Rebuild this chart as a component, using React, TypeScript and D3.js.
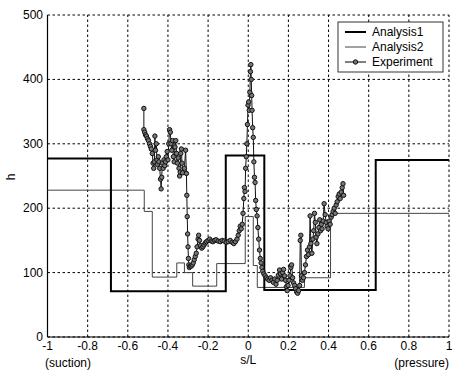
import React from "react";
import * as d3 from "d3";

const width = 466;
const height = 370;

// step breakpoints (x) and the level that holds until the next breakpoint
const a1X = [-1, -0.684, -0.112, 0.08, 0.635, 1];
const a1H = [277, 71, 282, 73, 275, 275];

const a2X = [-1, -0.518, -0.478, -0.356, -0.318, -0.277, -0.157, -0.015, 0.025, 0.045, 0.28, 0.41, 1];
const a2H = [228, 195, 93, 115, 100, 79, 114, 187, 111, 77, 92, 192, 192];

const expX = [
  -0.52, -0.52, -0.516, -0.512, -0.507, -0.502, -0.497, -0.492, -0.487, -0.483, -0.478, -0.474, -0.471,
  -0.468, -0.465, -0.462, -0.458, -0.455, -0.452, -0.448, -0.445, -0.441, -0.437, -0.434, -0.431, -0.428,
  -0.424, -0.42, -0.416, -0.412, -0.408, -0.404, -0.4, -0.396, -0.392, -0.388, -0.385, -0.381, -0.377,
  -0.373, -0.369, -0.365, -0.361, -0.357, -0.353, -0.349, -0.345, -0.342, -0.339, -0.336, -0.333, -0.33,
  -0.327, -0.318, -0.312, -0.308, -0.306, -0.304, -0.302, -0.3, -0.298, -0.296, -0.293, -0.289, -0.284,
  -0.279, -0.274, -0.269, -0.264, -0.259, -0.255, -0.25, -0.247, -0.243, -0.238, -0.232, -0.226, -0.22,
  -0.214, -0.208, -0.2, -0.192, -0.184, -0.176, -0.168, -0.16, -0.15, -0.14, -0.13, -0.12, -0.11, -0.1,
  -0.09, -0.08, -0.072, -0.064, -0.056, -0.05, -0.045, -0.04, -0.035, -0.03, -0.026, -0.022, -0.019,
  -0.016, -0.013, -0.01, -0.007, -0.004, -0.001, 0.002, 0.005, 0.008, 0.011, 0.013, 0.015, 0.017, 0.019,
  0.022, 0.025, 0.028, 0.031, 0.034, 0.037, 0.04, 0.044, 0.048, 0.052, 0.056, 0.06, 0.064, 0.068, 0.072,
  0.078, 0.084, 0.09, 0.097, 0.104, 0.111, 0.118, 0.125, 0.132, 0.138, 0.144, 0.15, 0.156, 0.161, 0.166,
  0.171, 0.176, 0.181, 0.186, 0.19, 0.194, 0.198, 0.203, 0.208, 0.212, 0.216, 0.221, 0.226, 0.231, 0.236,
  0.241, 0.246, 0.251, 0.256, 0.259, 0.262, 0.265, 0.27, 0.275, 0.28, 0.285, 0.29, 0.295, 0.3, 0.305,
  0.308, 0.312, 0.317, 0.322, 0.326, 0.33, 0.334, 0.338, 0.342, 0.347, 0.352, 0.356, 0.36, 0.364, 0.368,
  0.373, 0.378, 0.383, 0.388, 0.393, 0.398, 0.403, 0.408, 0.413, 0.418, 0.423, 0.428, 0.433, 0.438,
  0.443, 0.448, 0.453, 0.458, 0.463, 0.468, 0.472, 0.475,
];
const expH = [
  355, 322, 318, 314, 312, 308, 305, 300, 296, 292, 285, 270, 262,
  272, 312, 290, 300, 275, 268, 280, 272, 262, 245, 230, 248, 270,
  262, 275, 266, 272, 280, 288, 275, 300, 322, 318, 300, 290, 305,
  280, 272, 295, 305, 285, 270, 278, 262, 250, 256, 285, 292, 270,
  255, 262, 290, 254, 220, 187, 160, 140, 122, 112, 108, 110, 110,
  112, 115, 120, 125, 130, 140, 152, 158, 150, 142, 138, 140, 143,
  146, 148, 150, 152, 149, 148, 150, 151, 149, 148, 150, 149, 147, 148,
  150, 147, 145, 148, 152, 158, 165, 172, 168, 175, 192, 215, 232,
  226, 262, 280, 300, 330, 360, 365, 352, 380, 412, 423, 400, 375, 352,
  325, 310, 272, 248, 240, 212, 198, 188, 170, 152, 135, 122, 115, 108, 102,
  98, 95, 92, 90, 88, 92, 88, 85, 90, 82, 88, 96, 104, 98, 90,
  100, 105, 95, 88, 78, 72, 80, 88, 95, 108, 112, 92, 84, 80, 75,
  70, 68, 72, 80, 150, 158, 95, 88, 92, 100, 112, 125, 135, 128, 140,
  188, 145, 130, 152, 165, 192, 178, 155, 145, 160, 170, 182, 165, 175, 168,
  180, 207, 190, 178, 172, 168, 180, 175, 186, 190, 195, 200, 192, 205,
  210, 218, 222, 215, 225, 232, 238, 220,
];

const xTicks = [-1, -0.8, -0.6, -0.4, -0.2, 0, 0.2, 0.4, 0.6, 0.8, 1];
const yTicks = [0, 100, 200, 300, 400, 500];

const legendNames = ["Analysis1", "Analysis2", "Experiment"];

const font = "'Liberation Sans', Arial, sans-serif";

export default function App() {
  const x = d3.scaleLinear().domain([-1, 1]).range([47.5, 449]);
  const y = d3.scaleLinear().domain([0, 500]).range([337, 15]);

  const step = d3
    .line<[number, number]>()
    .x((d) => x(d[0]))
    .y((d) => y(d[1]))
    .curve(d3.curveStepAfter);

  const plain = d3
    .line<[number, number]>()
    .x((d) => x(d[0]))
    .y((d) => y(d[1]));

  const a1 = a1X.map((v, i) => [v, a1H[i]] as [number, number]);
  const a2 = a2X.map((v, i) => [v, a2H[i]] as [number, number]);
  const ex = expX.map((v, i) => [v, expH[i]] as [number, number]);

  const [x0, x1] = x.range();
  const [y0, y1] = y.range();

  return (
    <svg
      width={width}
      height={height}
      style={{ position: "absolute", left: 0, top: 0, background: "#fff" }}
      fontFamily={font}
    >
      {/* grid */}
      {xTicks.map((t) => (
        <line key={"gx" + t} x1={x(t)} x2={x(t)} y1={y0} y2={y1} stroke="#000" strokeDasharray="2.5,2.5" />
      ))}
      {yTicks.map((t) => (
        <line key={"gy" + t} x1={x0} x2={x1} y1={y(t)} y2={y(t)} stroke="#000" strokeDasharray="2.5,2.5" />
      ))}
      {/* axes */}
      <line x1={x0} x2={x0} y1={y0} y2={y1} stroke="#000" strokeWidth={1.2} />
      <line x1={x0} x2={x1} y1={y0} y2={y0} stroke="#000" strokeWidth={1.2} />

      {/* series */}
      <path d={step(a2) ?? ""} fill="none" stroke="#444" strokeWidth={1} />
      <path d={step(a1) ?? ""} fill="none" stroke="#000" strokeWidth={2} />
      <path d={plain(ex) ?? ""} fill="none" stroke="#111" strokeWidth={1} />
      {ex.map((d, i) => (
        <circle key={i} cx={x(d[0])} cy={y(d[1])} r={2.2} fill="#777" stroke="#111" strokeWidth={1} />
      ))}

      {/* tick labels */}
      {yTicks.map((t) => (
        <text key={"ly" + t} x={43} y={y(t) + 4} textAnchor="end" fontSize={12} fill="#000">
          {t}
        </text>
      ))}
      {xTicks.map((t) => (
        <text key={"lx" + t} x={x(t)} y={350} textAnchor="middle" fontSize={12} fill="#000">
          {String(+t.toFixed(1))}
        </text>
      ))}
      <text x={68} y={367} textAnchor="middle" fontSize={12}>(suction)</text>
      <text x={x(0)} y={364} textAnchor="middle" fontSize={12}>s/L</text>
      <text x={449} y={367} textAnchor="end" fontSize={12}>(pressure)</text>
      <text transform="translate(15,177) rotate(-90)" textAnchor="middle" fontSize={12}>h</text>

      {/* legend */}
      <g>
        <rect x={338} y={22} width={105} height={50} fill="#fff" stroke="#333" strokeWidth={1} />
        {legendNames.map((name, i) => {
          const ly = 32 + i * 15;
          return (
            <g key={name}>
              <line
                x1={345}
                x2={366}
                y1={ly}
                y2={ly}
                stroke={i === 1 ? "#444" : "#000"}
                strokeWidth={i === 0 ? 2 : 1}
              />
              {i === 2 && <circle cx={355.5} cy={ly} r={2.2} fill="#777" stroke="#111" />}
              <text x={372} y={ly + 4} fontSize={12}>{name}</text>
            </g>
          );
        })}
      </g>
    </svg>
  );
}
